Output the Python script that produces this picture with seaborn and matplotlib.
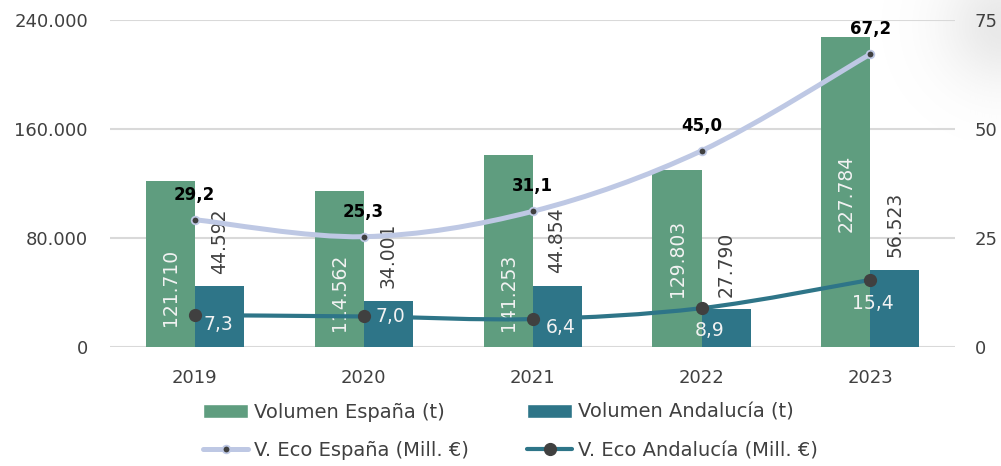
import numpy as np
import pandas as pd
import matplotlib
matplotlib.use("Agg")
import matplotlib.pyplot as plt
import seaborn as sns
from matplotlib.path import Path
from matplotlib.patches import PathPatch, Patch
from matplotlib.lines import Line2D
from matplotlib.ticker import FuncFormatter

years = ["2019", "2020", "2021", "2022", "2023"]
vol_espana = [121710, 114562, 141253, 129803, 227784]
vol_andalucia = [44592, 34001, 44854, 27790, 56523]
eco_espana = [29.2, 25.3, 31.1, 45.0, 67.2]
eco_andalucia = [7.3, 7.0, 6.4, 8.9, 15.4]

# where the labels sit
esp_label_y = [44000, 40000, 40000, 65000, 113000]
and_label_off = [(17, -7), (19, 0), (20, -6), (6, -16), (2, -17)]

green = "#5F9D7F"
teal = "#2E7588"
light = "#BEC8E4"
dark = "#404040"
txt = "#404040"


def fmt_miles(v):
    return f"{int(v):,}".replace(",", ".")


def smooth_path(xs, ys):
    # catmull-rom style bezier, like excel's smoothed line
    pts = np.column_stack([xs, ys]).astype(float)
    verts = [pts[0]]
    codes = [Path.MOVETO]
    n = len(pts)
    for i in range(n - 1):
        p0 = pts[max(i - 1, 0)]
        p1 = pts[i]
        p2 = pts[i + 1]
        p3 = pts[min(i + 2, n - 1)]
        c1 = p1 + (p2 - p0) / 6
        c2 = p2 - (p3 - p1) / 6
        verts += [c1, c2, p2]
        codes += [Path.CURVE4] * 3
    return Path(verts, codes)


sns.set_theme(style="white")
plt.rcParams["font.family"] = ["DejaVu Sans"]

fig = plt.figure(figsize=(10.01, 4.66), dpi=100)

# soft grey shadow at the top right corner
gax = fig.add_axes([0.85, 0.70, 0.15, 0.30])
gx, gy = np.meshgrid(np.arange(150), np.arange(140))
d = np.hypot(gx - 150, gy - 25)
glow = np.zeros((140, 150, 4))
glow[..., :3] = 0.6
glow[..., 3] = 0.22 * np.exp(-(d / 60.0) ** 2)
gax.imshow(glow, aspect="auto", interpolation="bilinear")
gax.axis("off")

ax = fig.add_axes([0.110, 0.2554, 0.844, 0.7017])
ax.set_facecolor("none")

df = pd.DataFrame({
    "year": years * 2,
    "vol": vol_espana + vol_andalucia,
    "serie": ["Volumen España (t)"] * 5 + ["Volumen Andalucía (t)"] * 5,
})
sns.barplot(data=df, x="year", y="vol", hue="serie", palette=[green, teal],
            width=0.58, gap=0, saturation=1, errorbar=None, legend=False,
            linewidth=0, ax=ax)

ax.set_xlim(-0.5, 4.5)
ax.set_ylim(0, 240000)
ax.set_yticks([0, 80000, 160000, 240000])
ax.yaxis.set_major_formatter(FuncFormatter(lambda v, p: fmt_miles(v)))
ax.yaxis.grid(True, color="#D9D9D9", lw=1.5)
ax.set_axisbelow(True)
ax.set_xlabel("")
ax.set_ylabel("")
ax.tick_params(axis="y", length=0, pad=16, labelsize=13, labelcolor=txt)
ax.tick_params(axis="x", length=0, pad=16, labelsize=13, labelcolor=txt)

for i, v in enumerate(vol_espana):
    ax.text(i - 0.145, esp_label_y[i], fmt_miles(v), rotation=90, ha="center",
            va="center", color="#F2F2F2", fontsize=13.5)

ax.bar_label(ax.containers[1], labels=[fmt_miles(v) for v in vol_andalucia],
             rotation=90, padding=9, color=txt, fontsize=13.5)

ax2 = ax.twinx()
ax2.set_ylim(0, 75)
ax2.set_yticks([0, 25, 50, 75])
ax2.tick_params(axis="y", length=0, pad=14, labelsize=13, labelcolor=txt)
ax2.grid(False)

xs = np.arange(len(years))
ax2.add_patch(PathPatch(smooth_path(xs, eco_espana), facecolor="none",
                        edgecolor=light, lw=3.6, capstyle="round"))
ax2.plot(xs, eco_espana, "o", ms=5.5, mfc=dark, mec=light, mew=1.3)
ax2.add_patch(PathPatch(smooth_path(xs, eco_andalucia), facecolor="none",
                        edgecolor=teal, lw=3.0, capstyle="round"))
ax2.plot(xs, eco_andalucia, "o", ms=8.5, mfc=dark, mec=dark)

for i, v in enumerate(eco_espana):
    ax2.annotate(f"{v:.1f}".replace(".", ","), (i, v), xytext=(0, 18),
                 textcoords="offset points", ha="center", va="center",
                 fontsize=12, fontweight="bold", color="black")

for i, v in enumerate(eco_andalucia):
    ax2.annotate(f"{v:.1f}".replace(".", ","), (i, v), xytext=and_label_off[i],
                 textcoords="offset points", ha="center", va="center",
                 fontsize=13.5, color="#F2F2F2")

for a in (ax, ax2):
    for s in a.spines.values():
        s.set_visible(False)

handles = [
    Patch(facecolor=green),
    Line2D([], [], color=light, lw=3.6, marker="o", ms=5.5, mfc=dark, mec=light, mew=1.3),
    Patch(facecolor=teal),
    Line2D([], [], color=teal, lw=3.0, marker="o", ms=8.5, mfc=dark, mec=dark),
]
labels = ["Volumen España (t)", "V. Eco España (Mill. €)",
          "Volumen Andalucía (t)", "V. Eco Andalucía (Mill. €)"]
fig.legend(handles, labels, ncol=2, loc="center", bbox_to_anchor=(0.51, 0.074),
           frameon=False, fontsize=14, labelcolor=txt, handlelength=2.3,
           handletextpad=0.3, columnspacing=3.0, labelspacing=1.0)

fig.savefig("out.png", dpi=100)
